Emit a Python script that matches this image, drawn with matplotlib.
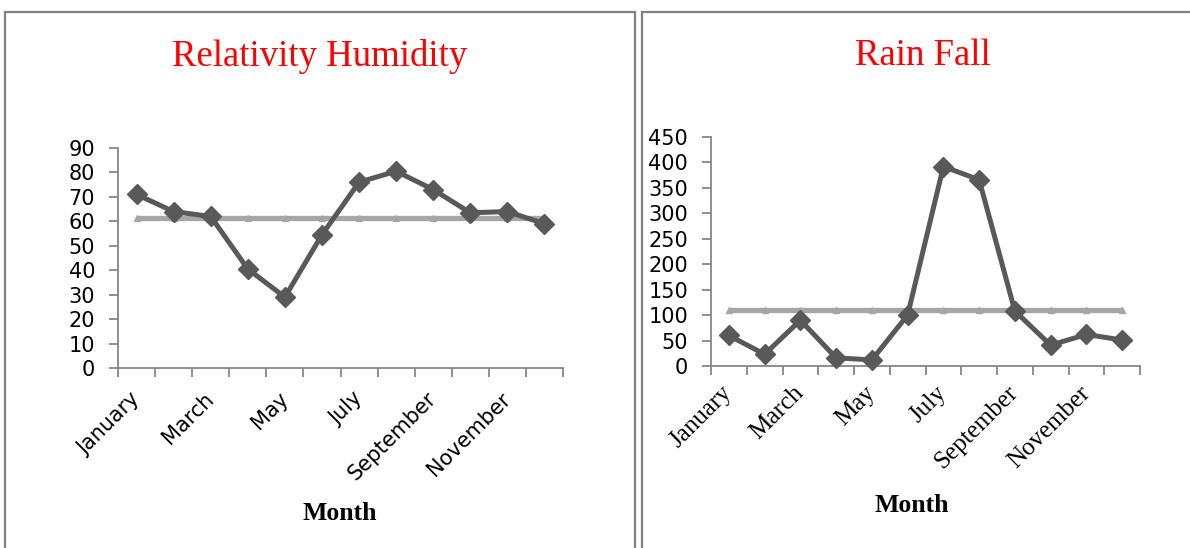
import numpy as np
import matplotlib
matplotlib.use("Agg")
import matplotlib.pyplot as plt
from matplotlib.patches import Rectangle

months = ["January", "February", "March", "April", "May", "June", "July",
          "August", "September", "October", "November", "December"]

humidity = [71, 64, 62, 40.5, 29, 54.5, 76, 80.5, 73, 63.5, 64, 59]
humidity_mean = [61.4] * 12

rainfall = [60, 23, 90, 16, 12, 100, 392, 366, 108, 41, 62, 51]
rainfall_mean = [110] * 12

humidity_ticks = list(range(0, 91, 10))
rainfall_ticks = list(range(0, 451, 50))

DARK = "#595959"
LIGHT = "#a6a6a6"
AXIS = "#868686"

W, H = 1190, 548
fig = plt.figure(figsize=(W / 100, H / 100), dpi=100)


def px_axes(x0, x1, y_top, y_bot):
    return fig.add_axes([x0 / W, 1 - y_bot / H, (x1 - x0) / W, (y_bot - y_top) / H])


def style_axes(ax, values, mean, yticks, num_font, month_font, month_size, label_pad):
    x = np.arange(len(months))
    ax.plot(x, mean, color=LIGHT, lw=3.8, marker="^", ms=5, mfc=LIGHT, mec=LIGHT,
            solid_capstyle="butt", zorder=2)
    ax.plot(x, values, color=DARK, lw=3.6, marker="D", ms=10.5, mfc=DARK, mec=DARK,
            zorder=3, clip_on=False)
    ax.set_xlim(-0.5, len(months) - 0.5)
    ax.set_ylim(yticks[0], yticks[-1])
    ax.set_yticks(yticks)
    ax.set_yticklabels([str(t) for t in yticks], fontfamily=num_font, fontsize=15)
    ax.set_xticks(x[::2])
    ax.set_xticklabels(months[::2], rotation=45, ha="right", va="center",
                       rotation_mode="anchor", fontfamily=month_font, fontsize=month_size)
    ax.set_xticks(np.arange(-0.5, len(months), 1), minor=True)
    ax.tick_params(axis="x", which="major", length=0, pad=label_pad)
    ax.tick_params(axis="x", which="minor", length=6.5, width=1.3, color=AXIS, direction="out")
    ax.tick_params(axis="y", length=6.5, width=1.3, color=AXIS, direction="out", pad=10)
    for side in ("top", "right"):
        ax.spines[side].set_visible(False)
    for side in ("left", "bottom"):
        ax.spines[side].set_color(AXIS)
        ax.spines[side].set_linewidth(1.3)


# panel frames
for x0, x1 in [(5, 635), (642, 1230)]:
    fig.add_artist(Rectangle((x0 / W, -0.1), (x1 - x0) / W, 1.1 - 12 / H,
                             transform=fig.transFigure, fill=False,
                             edgecolor="#808080", lw=1.6))

ax1 = px_axes(118, 563, 148, 368)
style_axes(ax1, humidity, humidity_mean, humidity_ticks, "DejaVu Sans", "DejaVu Sans", 15, 20)

ax2 = px_axes(711, 1140, 137, 366)
style_axes(ax2, rainfall, rainfall_mean, rainfall_ticks, "DejaVu Sans", "Liberation Serif", 18, 17)

fig.text(320 / W, 1 - 56 / H, "Relativity Humidity", color="red",
         fontfamily="Liberation Serif", fontsize=26.5, ha="center", va="center")
fig.text(923 / W, 1 - 56 / H, "Rain Fall", color="red",
         fontfamily="Liberation Serif", fontsize=26.5, ha="center", va="center")

fig.text(340 / W, 1 - 514 / H, "Month", fontfamily="Liberation Serif",
         fontweight="bold", fontsize=18.5, ha="center", va="center")
fig.text(912 / W, 1 - 506 / H, "Month", fontfamily="Liberation Serif",
         fontweight="bold", fontsize=18.5, ha="center", va="center")

fig.savefig("out.png", dpi=100)
